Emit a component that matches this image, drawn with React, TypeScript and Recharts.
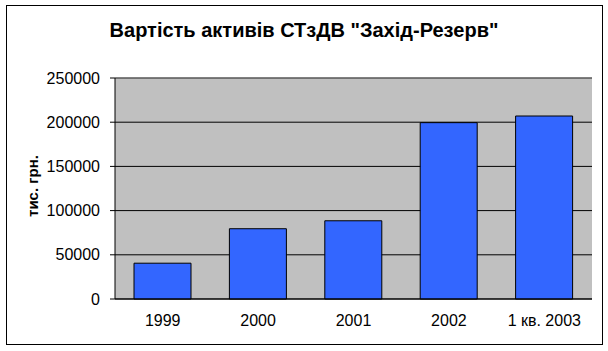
import { BarChart, Bar, XAxis, YAxis, CartesianGrid, ReferenceLine } from "recharts";

const categories = ["1999", "2000", "2001", "2002", "1 кв. 2003"];
const assets = [40500, 79500, 88500, 199500, 207000];
const yTicks = [0, 50000, 100000, 150000, 200000, 250000];
const edgeTicks = [0, 1, 2, 3, 4, 5];

const chartTitle = "Вартість активів СТзДВ \"Захід-Резерв\"";
const yTitle = "тис. грн.";

const font = "'Liberation Sans', Arial, sans-serif";

export default function App() {
  const data = categories.map((c, i) => ({ category: c, value: assets[i] }));

  return (
    <div style={{ position: "absolute", left: 0, top: 0, width: 608, height: 351, background: "#fff", fontFamily: font }}>
      <div
        style={{
          position: "absolute",
          left: 6,
          top: 5,
          width: 595,
          height: 338,
          border: "1px solid #000",
        }}
      />
      <div
        style={{
          position: "absolute",
          left: 0,
          width: 608,
          top: 19,
          textAlign: "center",
          fontSize: 20,
          fontWeight: "bold",
          color: "#000",
        }}
      >
        {chartTitle}
      </div>
      <div
        style={{
          position: "absolute",
          left: 32,
          top: 186,
          transform: "translate(-50%, -50%) rotate(-90deg)",
          fontSize: 15,
          fontWeight: "bold",
          whiteSpace: "nowrap",
        }}
      >
        {yTitle}
      </div>
      <div style={{ position: "absolute", left: 0, top: 0 }}>
        <BarChart width={608} height={351} data={data} margin={{ top: 78, right: 16, left: 0, bottom: 22 }}>
          <CartesianGrid vertical={false} fill="#C0C0C0" stroke="#000" fillOpacity={1} />
          <XAxis
            xAxisId="edges"
            type="number"
            domain={[0, 5]}
            ticks={edgeTicks}
            tick={false}
            axisLine={false}
            tickLine={{ stroke: "#000" }}
            tickSize={5}
            height={0}
          />
          <XAxis
            dataKey="category"
            height={30}
            tickLine={false}
            tickSize={0}
            tickMargin={16}
            axisLine={{ stroke: "#000" }}
            tick={{ fontSize: 16, fill: "#000", fontFamily: font }}
          />
          <YAxis
            width={115}
            domain={[0, 250000]}
            ticks={yTicks}
            tickSize={5}
            tickMargin={10}
            axisLine={{ stroke: "#000" }}
            tickLine={{ stroke: "#000" }}
            tick={{ fontSize: 16, fill: "#000", fontFamily: font }}
          />
          <YAxis
            yAxisId="frame"
            orientation="right"
            width={0}
            domain={[0, 1]}
            tick={false}
            tickLine={false}
            axisLine={{ stroke: "#808080" }}
          />
          <ReferenceLine y={250000} stroke="#808080" />
          <Bar dataKey="value" fill="#3366FF" stroke="#000" strokeWidth={1} barSize={57} isAnimationActive={false} />
        </BarChart>
      </div>
    </div>
  );
}
